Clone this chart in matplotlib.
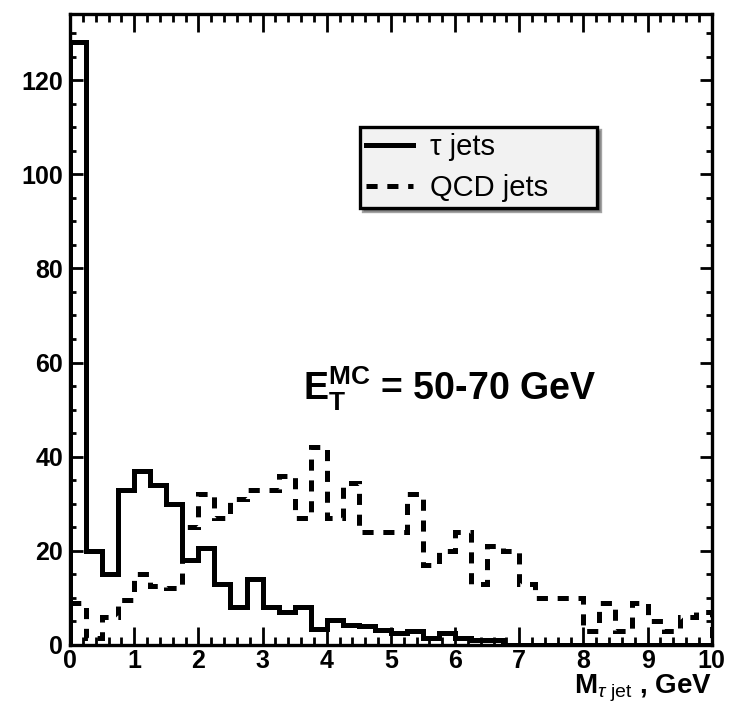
import numpy as np
import matplotlib
matplotlib.use('Agg')
import matplotlib.pyplot as plt
from matplotlib.ticker import MultipleLocator

plt.rcParams['font.family'] = ['Liberation Sans', 'DejaVu Sans']
plt.rcParams['mathtext.fontset'] = 'custom'
plt.rcParams['mathtext.rm'] = 'Liberation Sans'
plt.rcParams['mathtext.bf'] = 'Liberation Sans:bold'
plt.rcParams['mathtext.it'] = 'Liberation Sans:italic'
plt.rcParams['lines.scale_dashes'] = False

# histogram bin edges (0.25 GeV bins)
edges = np.arange(0, 10.01, 0.25)

tau_jets = [128, 20, 15, 33, 37, 34, 30, 18, 20.5, 13, 8, 14, 8, 7, 8, 3.5,
            5.3, 4.2, 4, 3.2, 2.5, 3, 1.5, 2.5, 1.5, 1, 1, 0, 0, 0,
            0, 0, 0, 0, 0, 0, 0, 0, 0, 0]
qcd_jets = [9, 1.5, 6, 9.5, 15, 12.5, 12, 25, 32, 27, 31, 33, 33, 36, 27, 42,
            27, 34.5, 24, 24, 24, 32, 17, 20, 24, 13, 21, 20, 13, 10,
            10, 10, 3, 9, 3, 9, 5, 3, 6, 7]

fig = plt.figure(figsize=(7.3, 7.08), dpi=100)
ax = fig.add_axes([0.096, 0.089, 0.879, 0.891])

ax.stairs(tau_jets, edges, color='black', lw=3.6, label='τ jets')
ax.stairs(qcd_jets, edges, color='black', lw=3.6, linestyle=(0, (8, 7)),
          label='QCD jets')

ax.set_xlim(0, 10)
ax.set_ylim(0, 134)
ax.xaxis.set_major_locator(MultipleLocator(1))
ax.xaxis.set_minor_locator(MultipleLocator(0.2))
ax.yaxis.set_major_locator(MultipleLocator(20))
ax.yaxis.set_minor_locator(MultipleLocator(5))
ax.tick_params(axis='both', which='both', direction='in', top=True, right=True,
               width=2, labelsize=18)
ax.tick_params(axis='x', which='major', length=13, pad=3)
ax.tick_params(axis='x', which='minor', length=6)
ax.tick_params(axis='y', which='major', length=9, pad=5)
ax.tick_params(axis='y', which='minor', length=4.5)
for lab in ax.get_xticklabels() + ax.get_yticklabels():
    lab.set_fontweight('bold')
for sp in ax.spines.values():
    sp.set_linewidth(2.4)

ax.set_xlabel(r'$\mathbf{M}_{\tau\ \mathrm{jet}}$ , GeV', fontsize=20,
              fontweight='bold', loc='right', labelpad=0)

ax.text(3.63, 52, r'$\mathbf{E}_{\mathbf{T}}^{\mathbf{MC}}$ = 50-70 GeV',
        fontsize=27, fontweight='bold')

leg = ax.legend(loc='upper left', bbox_to_anchor=(0.452, 0.694, 0.369, 0.127),
                mode='expand', fontsize=21, frameon=True, fancybox=False,
                shadow=True, handlelength=1.6, borderpad=0.2,
                labelspacing=0.45, handletextpad=0.6, borderaxespad=0)
leg.get_frame().set_edgecolor('black')
leg.get_frame().set_linewidth(2.4)
leg.get_frame().set_facecolor('#f2f2f2')

fig.savefig('out.png', dpi=100)
